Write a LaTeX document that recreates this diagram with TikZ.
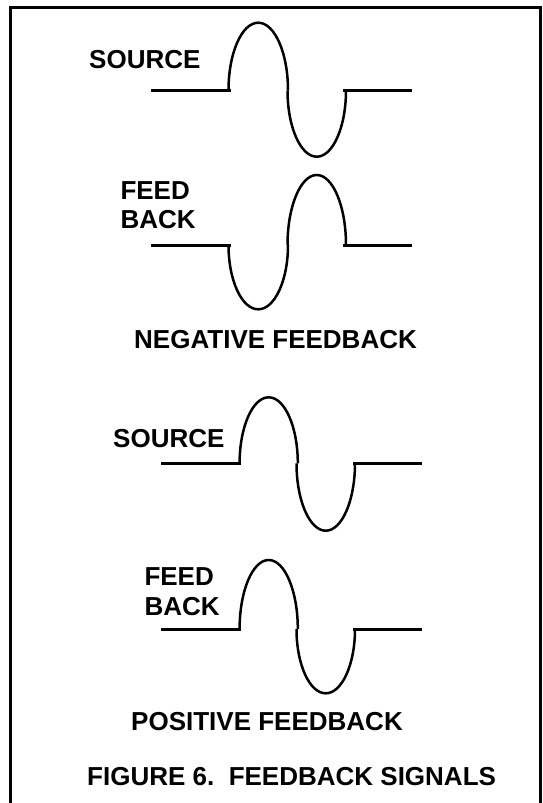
\documentclass[tikz,border=0pt]{standalone}
\usepackage{fontspec}
\setmainfont{Liberation Sans}
\begin{document}
\begin{tikzpicture}[x=1pt,y=-1pt,
  frame/.style={line width=3pt},
  sig/.style={line width=3pt},
  lobe/.style={line width=2.5pt},
  lbl/.style={inner sep=0pt,anchor=base west,font=\fontsize{26}{29.5}\selectfont\bfseries,align=left}]
\useasboundingbox (0,0) rectangle (543,803);
% frame (open at the bottom)
\draw[frame] (10.5,803) -- (10.5,7.5) -- (540.5,7.5) -- (540.5,803);

% ---------- negative feedback ----------
\node[lbl] (src1) at (89,68.3) {SOURCE};
\draw[sig]  (151,90.3) -- (231,90.3);
\draw[lobe] (228.5,90.3) arc[start angle=180,end angle=360,x radius=29.75,y radius=67.6];
\draw[lobe] (287.5,90.3) arc[start angle=180,end angle=0,x radius=29.25,y radius=66.4];
\draw[sig]  (343,90.3) -- (412,90.3);

\node[lbl] (fb1) at (120.3,228.5) {FEED\\BACK};
\draw[sig]  (151,245) -- (231,245);
\draw[lobe] (228.5,245) arc[start angle=180,end angle=0,x radius=29.75,y radius=64.3];
\draw[lobe] (287.5,245) arc[start angle=180,end angle=360,x radius=29.25,y radius=70];
\draw[sig]  (343,245) -- (412,245);

\node[lbl] (neg) at (134,348.3) {NEGATIVE FEEDBACK};

% ---------- positive feedback ----------
\node[lbl] (src2) at (113,447.3) {SOURCE};
\draw[sig]  (161,463.3) -- (240.6,463.3);
\draw[lobe] (239.6,463.3) arc[start angle=180,end angle=360,x radius=29.1,y radius=66];
\draw[lobe] (296.5,463.3) arc[start angle=180,end angle=0,x radius=29.25,y radius=67.4];
\draw[sig]  (353,463.3) -- (422.4,463.3);

\node[lbl] (fb2) at (144.3,615) {FEED\\BACK};
\draw[sig]  (161,629) -- (240.6,629);
\draw[lobe] (239.6,629) arc[start angle=180,end angle=360,x radius=29.1,y radius=69];
\draw[lobe] (296.5,629) arc[start angle=180,end angle=0,x radius=29.25,y radius=64.3];
\draw[sig]  (353,629) -- (422.4,629);

\node[lbl] (pos) at (131,730) {POSITIVE FEEDBACK};

\node[lbl] (cap) at (87,785) {FIGURE 6.\ \ FEEDBACK SIGNALS};
\end{tikzpicture}
\end{document}
